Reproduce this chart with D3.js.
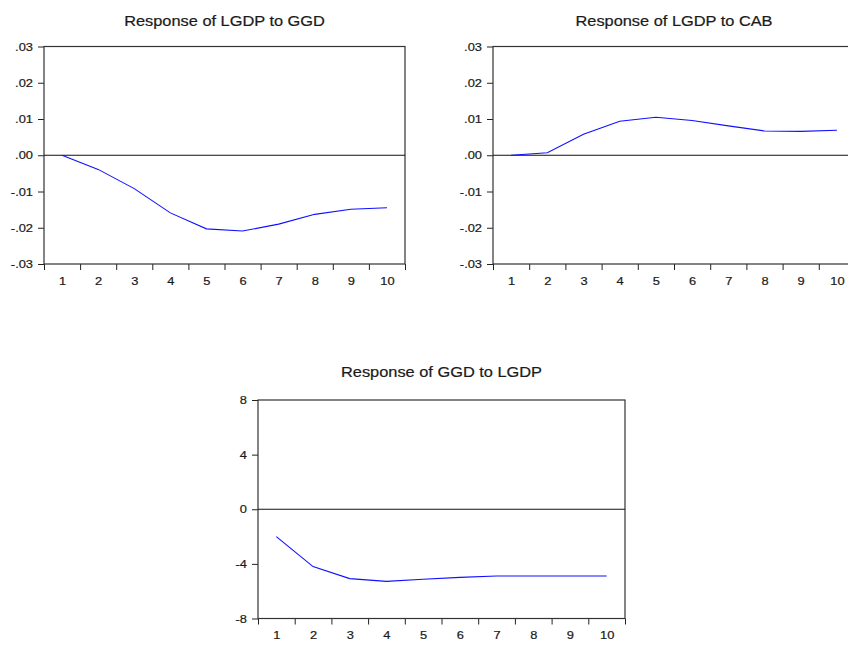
<!DOCTYPE html>
<html>
<head>
<meta charset="utf-8">
<script src="https://cdn.jsdelivr.net/npm/d3@7"></script>
<style>
  body { margin: 0; background: #fff; }
  svg { display: block; }
</style>
</head>
<body>
<div id="plot"></div>
<script>
const width = 848
const height = 645

// data
const periods = [1, 2, 3, 4, 5, 6, 7, 8, 9, 10]
const lgdpToGgd = [0.0, -0.0039, -0.0092, -0.0159, -0.0203, -0.0209, -0.0190, -0.0163, -0.0149, -0.0145]
const lgdpToCab = [0.0, 0.0007, 0.0058, 0.0094, 0.0105, 0.0096, 0.0081, 0.0067, 0.0066, 0.0069]
const ggdToLgdp = [-2.0, -4.2, -5.08, -5.28, -5.13, -4.99, -4.89, -4.89, -4.89, -4.89]
const smallTicks = [-0.03, -0.02, -0.01, 0, 0.01, 0.02, 0.03]
const largeTicks = [-8, -4, 0, 4, 8]
const titles = ['Response of LGDP to GGD', 'Response of LGDP to CAB', 'Response of GGD to LGDP']

const stretch = 1.17   // the source picture is a little wider than tall
const font = '"Liberation Sans", Arial, sans-serif'
const ink = '#1a1a1a'

const svg = d3.select('div#plot').append('svg')
    .attr('width', width)
    .attr('height', height)
    .attr('viewBox', [0, 0, width, height])

// plain hyphen for negatives, no leading zero
const fmtSmall = v => v === 0 ? '.00' : d3.format('.2f')(v).replace('\u2212', '-').replace('0.', '.')
const fmtLarge = v => String(v)

const styleText = sel => sel
    .attr('font-family', font)
    .attr('fill', ink)
    .attr('stroke', ink)
    .attr('stroke-width', 0.2)

function drawPanel(box, title, values, yDomain, yTicks, fmt, titleY) {
    const x = d3.scaleLinear()
        .domain([0.5, 10.5])
        .range([box.left, box.right])
    const y = d3.scaleLinear()
        .domain(yDomain)
        .range([box.bottom, box.top])

    // title
    svg.append('text')
        .text(title)
        .attr('transform', 'translate(' + (box.left + box.right) / 2 + ',' + titleY + ') scale(' + stretch + ',1)')
        .attr('text-anchor', 'middle')
        .attr('font-size', 14)
        .call(styleText)

    // y axis
    svg.append('g')
        .attr('transform', 'translate(' + box.left + ',0)')
        .call(d3.axisLeft(y).tickValues(yTicks).tickFormat(fmt).tickSize(6).tickPadding(4))
        .call(g => g.select('.domain').remove())
        .call(g => g.selectAll('.tick line').attr('stroke', '#222'))
        .call(g => g.selectAll('.tick text')
            .attr('x', -11 / stretch)
            .attr('transform', 'scale(' + stretch + ',1)')
            .attr('font-size', 11)
            .call(styleText))

    // x axis tick marks between periods
    svg.append('g')
        .attr('transform', 'translate(0,' + box.bottom + ')')
        .call(d3.axisBottom(x).tickValues(d3.range(0.5, 11, 1)).tickFormat('').tickSize(6))
        .call(g => g.select('.domain').remove())
        .call(g => g.selectAll('.tick line').attr('stroke', '#222'))

    // x axis period labels
    svg.append('g')
        .attr('transform', 'translate(0,' + box.bottom + ')')
        .call(d3.axisBottom(x).tickValues(periods).tickFormat(d3.format('d')).tickSize(0).tickPadding(13))
        .call(g => g.select('.domain').remove())
        .call(g => g.selectAll('.tick text')
            .attr('transform', 'scale(' + stretch + ',1)')
            .attr('font-size', 11)
            .call(styleText))

    // frame
    svg.append('rect')
        .attr('x', box.left)
        .attr('y', box.top)
        .attr('width', box.right - box.left)
        .attr('height', box.bottom - box.top)
        .attr('fill', 'none')
        .attr('stroke', '#333')
        .attr('stroke-width', 1.2)

    // zero line
    svg.append('line')
        .attr('x1', box.left)
        .attr('x2', box.right)
        .attr('y1', y(0))
        .attr('y2', y(0))
        .attr('stroke', '#111')
        .attr('stroke-width', 1)

    // response line
    const line = d3.line()
        .x((v, i) => x(periods[i]))
        .y(v => y(v))

    svg.append('path')
        .datum(values)
        .attr('d', line)
        .attr('fill', 'none')
        .attr('stroke', '#1010ff')
        .attr('stroke-width', 1.1)
}

drawPanel({left: 44, right: 405, top: 46.5, bottom: 264}, titles[0], lgdpToGgd, [-0.03, 0.03], smallTicks, fmtSmall, 26)
drawPanel({left: 493, right: 855, top: 46.5, bottom: 264}, titles[1], lgdpToCab, [-0.03, 0.03], smallTicks, fmtSmall, 26)
drawPanel({left: 258, right: 625, top: 400, bottom: 618.5}, titles[2], ggdToLgdp, [-8, 8], largeTicks, fmtLarge, 377)
</script>
</body>
</html>
